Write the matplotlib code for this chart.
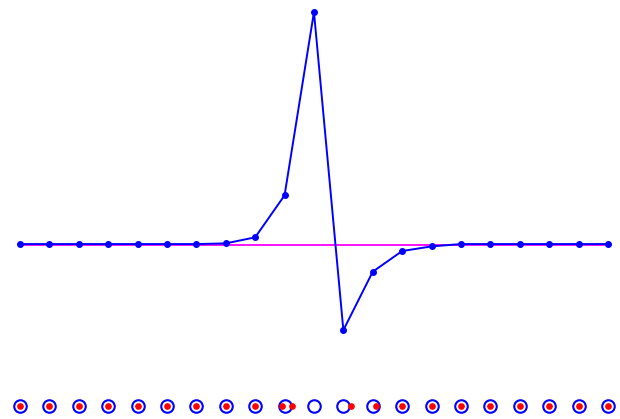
import matplotlib.pyplot as plt
import numpy as np

# signal values at 21 sample positions (peak normalised to 1)
idx = np.arange(21)
signal = [0, 0, 0, 0, 0, 0, 0, 0.003, 0.029, 0.21, 1.0,
          -0.371, -0.119, -0.030, -0.010, 0, 0, 0, 0, 0, 0]

# red particle displacement relative to each circle (in sample units)
shift = [0, 0, 0, 0, 0, 0, 0, 0, 0, -0.10, -0.75,
         0.27, 0.10, 0, 0, 0, 0, 0, 0, 0, 0]

row_y = -0.698

fig = plt.figure(figsize=(6.2, 4.19), dpi=100)
ax = fig.add_axes([0, 0, 1, 1])

# baseline
ax.plot([idx[0], idx[-1]], [-0.004, -0.004], color='#ff00ff', lw=1.3, zorder=1)

# signal curve
ax.plot(idx, signal, color='#0000ff', lw=1.4, marker='o', ms=4, zorder=2)

# bottom row of circles with red particles
ax.plot(idx, [row_y] * len(idx), ls='none', marker='o', ms=9,
        mfc='white', mec='#0000ff', mew=1.5, zorder=3)
ax.plot(idx + np.array(shift), [row_y] * len(idx), ls='none', marker='o',
        ms=3.8, color='#ff0000', zorder=4)

ax.set_xlim(-0.68, 20.41)
ax.set_ylim(-0.754, 1.052)
ax.axis('off')

fig.savefig('out.png', dpi=100)
